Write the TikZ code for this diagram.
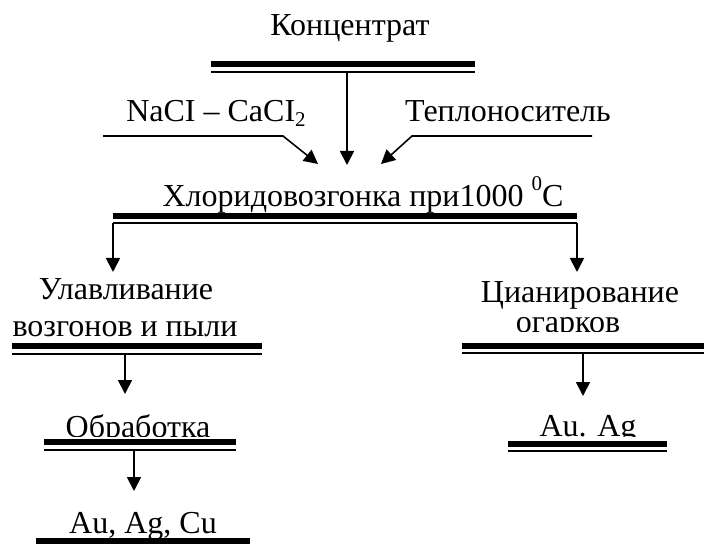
\documentclass[tikz,border=0pt]{standalone}
\usepackage{fontspec}
\setmainfont{Liberation Serif}
\usetikzlibrary{arrows.meta}
\begin{document}
\begin{tikzpicture}[x=1pt,y=-1pt,
  lbl/.style={anchor=base,inner sep=0pt,font=\fontsize{32}{38}\selectfont},
  thickbar/.style={line width=6.5pt},
  thinbar/.style={line width=2pt},
  flow/.style={line width=1.8pt,-{Triangle[length=14pt,width=14pt]}},
  feed/.style={line width=1.6pt,-{Triangle[length=14pt,width=14pt]}}]
\useasboundingbox (0,0) rectangle (704,545);
% texts
\node[lbl] (konc) at (350,36) {Концентрат};
\node[lbl] (nacl) at (216,122) {NaCI – CaCI\raisebox{-0.3ex}{\fontsize{21}{24}\selectfont 2}};
\node[lbl] (tepl) at (508,122) {Теплоноситель};
\node[lbl] (chlor) at (363,207) {Хлоридовозгонка при1000 \raisebox{1.1ex}{\fontsize{21}{24}\selectfont 0}C};
\node[lbl] (ulav1) at (126,300) {Улавливание};
\node[lbl] (ulav2) at (125,337) {возгонов и пыли};
\node[lbl] (cian1) at (580,302) {Цианирование};
\begin{scope}
\clip (480,311) rectangle (690,331);
\node[lbl] (cian2) at (568,332) {огарков};
\end{scope}
\begin{scope}
\clip (30,400) rectangle (250,436);
\node[lbl] (obr) at (138,437) {Обработка};
\end{scope}
\begin{scope}
\clip (500,400) rectangle (680,436);
\node[lbl] (auag) at (588,436) {Au. Ag};
\end{scope}
\node[lbl] (auagcu) at (143,533) {Au, Ag, Cu};
% bar coordinates
\coordinate (b1l) at (211,64); \coordinate (b1r) at (475,64);
\coordinate (b1lt) at (211,72); \coordinate (b1rt) at (475,72);
\coordinate (b2l) at (113,216); \coordinate (b2r) at (577,216);
\coordinate (b2lt) at (113,223); \coordinate (b2rt) at (577,223);
\coordinate (b3l) at (12,346); \coordinate (b3r) at (262,346);
\coordinate (b3lt) at (12,354); \coordinate (b3rt) at (262,354);
\coordinate (b4l) at (44,442); \coordinate (b4r) at (236,442);
\coordinate (b4lt) at (44,450); \coordinate (b4rt) at (236,450);
\coordinate (b5l) at (36,541); \coordinate (b5r) at (250,541);
\coordinate (b6l) at (462,346); \coordinate (b6r) at (704,346);
\coordinate (b6lt) at (462,353); \coordinate (b6rt) at (704,353);
\coordinate (b7l) at (508,444); \coordinate (b7r) at (667,444);
\coordinate (b7lt) at (508,451); \coordinate (b7rt) at (667,451);
% bars
\draw[thickbar] (b1l) -- (b1r); \draw[thinbar] (b1lt) -- (b1rt);
\draw[thickbar] (b2l) -- (b2r); \draw[thinbar] (b2lt) -- (b2rt);
\draw[thickbar] (b3l) -- (b3r); \draw[thinbar] (b3lt) -- (b3rt);
\draw[thickbar] (b4l) -- (b4r); \draw[thinbar] (b4lt) -- (b4rt);
\draw[thickbar] (b5l) -- (b5r);
\draw[thickbar] (b6l) -- (b6r); \draw[thinbar] (b6lt) -- (b6rt);
\draw[thickbar] (b7l) -- (b7r); \draw[thinbar] (b7lt) -- (b7rt);
% arrows
\coordinate (a1s) at (347,72); \coordinate (a1e) at (347,165);
\draw[flow] (a1s) -- (a1e);
\coordinate (nl0) at (103,136); \coordinate (nl1) at (283,136); \coordinate (nl2) at (318,164);
\draw[feed] (nl0) -- (nl1) -- (nl2);
\coordinate (tr0) at (592,136); \coordinate (tr1) at (412,136); \coordinate (tr2) at (381,164);
\draw[feed] (tr0) -- (tr1) -- (tr2);
\coordinate (a2e) at (113,272); \draw[flow] (b2lt) -- (a2e);
\coordinate (a3e) at (577,272); \draw[flow] (b2rt) -- (a3e);
\coordinate (a4s) at (125,354); \coordinate (a4e) at (125,394); \draw[flow] (a4s) -- (a4e);
\coordinate (a5s) at (134,450); \coordinate (a5e) at (134,491); \draw[flow] (a5s) -- (a5e);
\coordinate (a6s) at (583,353); \coordinate (a6e) at (583,396); \draw[flow] (a6s) -- (a6e);
\end{tikzpicture}
\end{document}
